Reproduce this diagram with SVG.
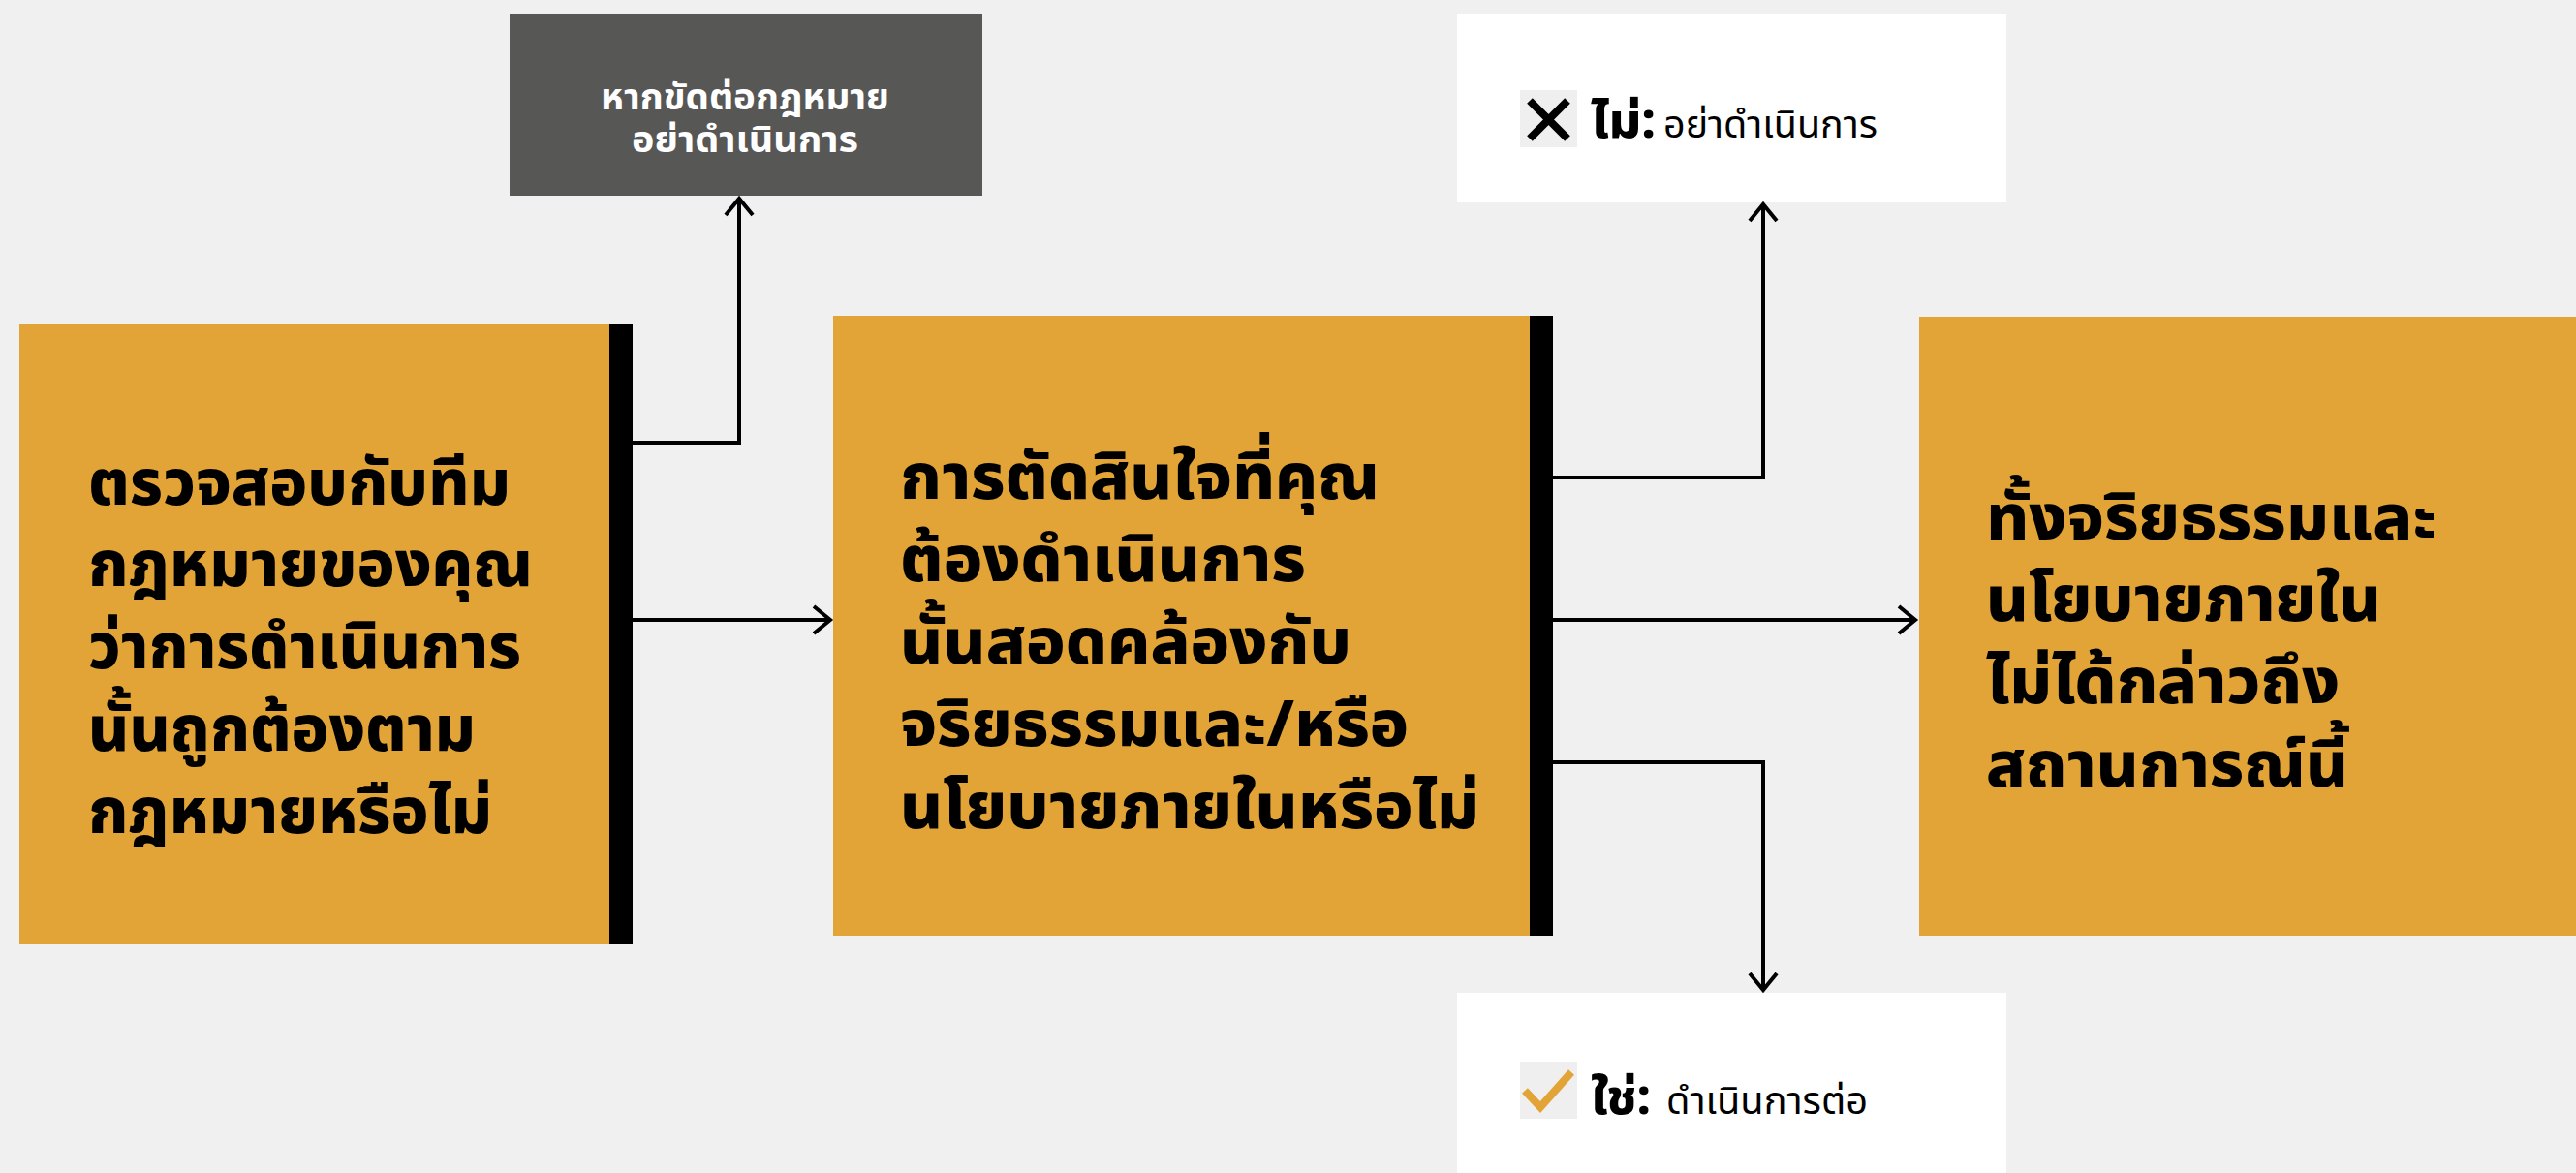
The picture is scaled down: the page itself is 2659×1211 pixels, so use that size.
<svg xmlns="http://www.w3.org/2000/svg" width="2659" height="1211" viewBox="0 0 2659 1211">
<defs>
<style>
.bg{fill:#f0f0f0}
.org{fill:#e2a436}
.bar{fill:#000000}
.dark{fill:#575756}
.white{fill:#ffffff}
.ico{fill:#efefef}
.big{font-family:"Noto Sans Thai","Noto Sans",sans-serif;font-weight:800;font-size:66px;fill:#000}
.lbl{font-family:"Noto Sans Thai","Noto Sans",sans-serif;font-weight:700;font-size:38px;fill:#fff}
.ynb{font-family:"Noto Sans Thai","Noto Sans",sans-serif;font-weight:800;font-size:50px;fill:#000}
.yn{font-family:"Noto Sans Thai","Noto Sans",sans-serif;font-weight:400;font-size:40px;fill:#000}
.conn{fill:none;stroke:#000;stroke-width:4}
</style>
<marker id="ah" markerUnits="userSpaceOnUse" markerWidth="40" markerHeight="40" viewBox="-20 -20 40 40" refX="0" refY="0" orient="auto">
<path d="M -17 -14 L 0 0 L -17 14" fill="none" stroke="#000" stroke-width="4"/>
</marker>
</defs>
<rect class="bg" x="0" y="0" width="2659" height="1211"/>
<g id="node-check-legal">
<rect class="org" x="20" y="334" width="609" height="641"/>
<rect class="bar" x="629" y="334" width="24" height="641"/>
<text class="big" x="91" y="521" textLength="436" lengthAdjust="spacingAndGlyphs">ตรวจสอบกับทีม</text>
<text class="big" x="91" y="605" textLength="459" lengthAdjust="spacingAndGlyphs">กฎหมายของคุณ</text>
<text class="big" x="91" y="690" textLength="447" lengthAdjust="spacingAndGlyphs">ว่าการดำเนินการ</text>
<text class="big" x="91" y="775" textLength="400" lengthAdjust="spacingAndGlyphs">นั้นถูกต้องตาม</text>
<text class="big" x="91" y="860" textLength="417" lengthAdjust="spacingAndGlyphs">กฎหมายหรือไม่</text>
</g>
<g id="node-illegal">
<rect class="dark" x="526" y="14" width="488" height="188"/>
<text class="lbl" x="620" y="113" textLength="298" lengthAdjust="spacingAndGlyphs">หากขัดต่อกฎหมาย</text>
<text class="lbl" x="652" y="157" textLength="234" lengthAdjust="spacingAndGlyphs">อย่าดำเนินการ</text>
</g>
<g id="node-decision">
<rect class="org" x="860" y="326" width="719" height="640"/>
<rect class="bar" x="1579" y="326" width="24" height="640"/>
<text class="big" x="929" y="515" textLength="495" lengthAdjust="spacingAndGlyphs">การตัดสินใจที่คุณ</text>
<text class="big" x="929" y="600" textLength="419" lengthAdjust="spacingAndGlyphs">ต้องดำเนินการ</text>
<text class="big" x="929" y="685" textLength="466" lengthAdjust="spacingAndGlyphs">นั้นสอดคล้องกับ</text>
<text class="big" x="929" y="770" textLength="525" lengthAdjust="spacingAndGlyphs">จริยธรรมและ/หรือ</text>
<text class="big" x="929" y="855" textLength="598" lengthAdjust="spacingAndGlyphs">นโยบายภายในหรือไม่</text>
</g>
<g id="node-no">
<rect class="white" x="1504" y="14" width="567" height="195"/>
<rect class="ico" x="1569" y="93" width="59" height="59"/>
<path d="M1579 104 L1618 143 M1618 104 L1579 143" stroke="#000" stroke-width="8" fill="none"/>
<text class="ynb" x="1642" y="142" textLength="67" lengthAdjust="spacingAndGlyphs">ไม่:</text>
<text class="yn" x="1717" y="142" textLength="221" lengthAdjust="spacingAndGlyphs">อย่าดำเนินการ</text>
</g>
<g id="node-yes">
<rect class="white" x="1504" y="1025" width="567" height="186"/>
<rect class="ico" x="1569" y="1096" width="59" height="59"/>
<path d="M1574 1126 L1590 1143 L1622 1107" stroke="#e2a436" stroke-width="8" fill="none"/>
<text class="ynb" x="1642" y="1150" textLength="62" lengthAdjust="spacingAndGlyphs">ใช่:</text>
<text class="yn" x="1720" y="1150" textLength="208" lengthAdjust="spacingAndGlyphs">ดำเนินการต่อ</text>
</g>
<g id="node-not-covered">
<rect class="org" x="1981" y="327" width="678" height="639"/>
<text class="big" x="2050" y="557" textLength="465" lengthAdjust="spacingAndGlyphs">ทั้งจริยธรรมและ</text>
<text class="big" x="2050" y="641" textLength="408" lengthAdjust="spacingAndGlyphs">นโยบายภายใน</text>
<text class="big" x="2050" y="726" textLength="365" lengthAdjust="spacingAndGlyphs">ไม่ได้กล่าวถึง</text>
<text class="big" x="2050" y="812" textLength="374" lengthAdjust="spacingAndGlyphs">สถานการณ์นี้</text>
</g>
<g id="connectors">
<path class="conn" d="M653 457 H763 V205" marker-end="url(#ah)"/>
<path class="conn" d="M653 640 H857" marker-end="url(#ah)"/>
<path class="conn" d="M1603 493 H1820 V211" marker-end="url(#ah)"/>
<path class="conn" d="M1603 640 H1977" marker-end="url(#ah)"/>
<path class="conn" d="M1603 787 H1820 V1022" marker-end="url(#ah)"/>
</g>
</svg>
